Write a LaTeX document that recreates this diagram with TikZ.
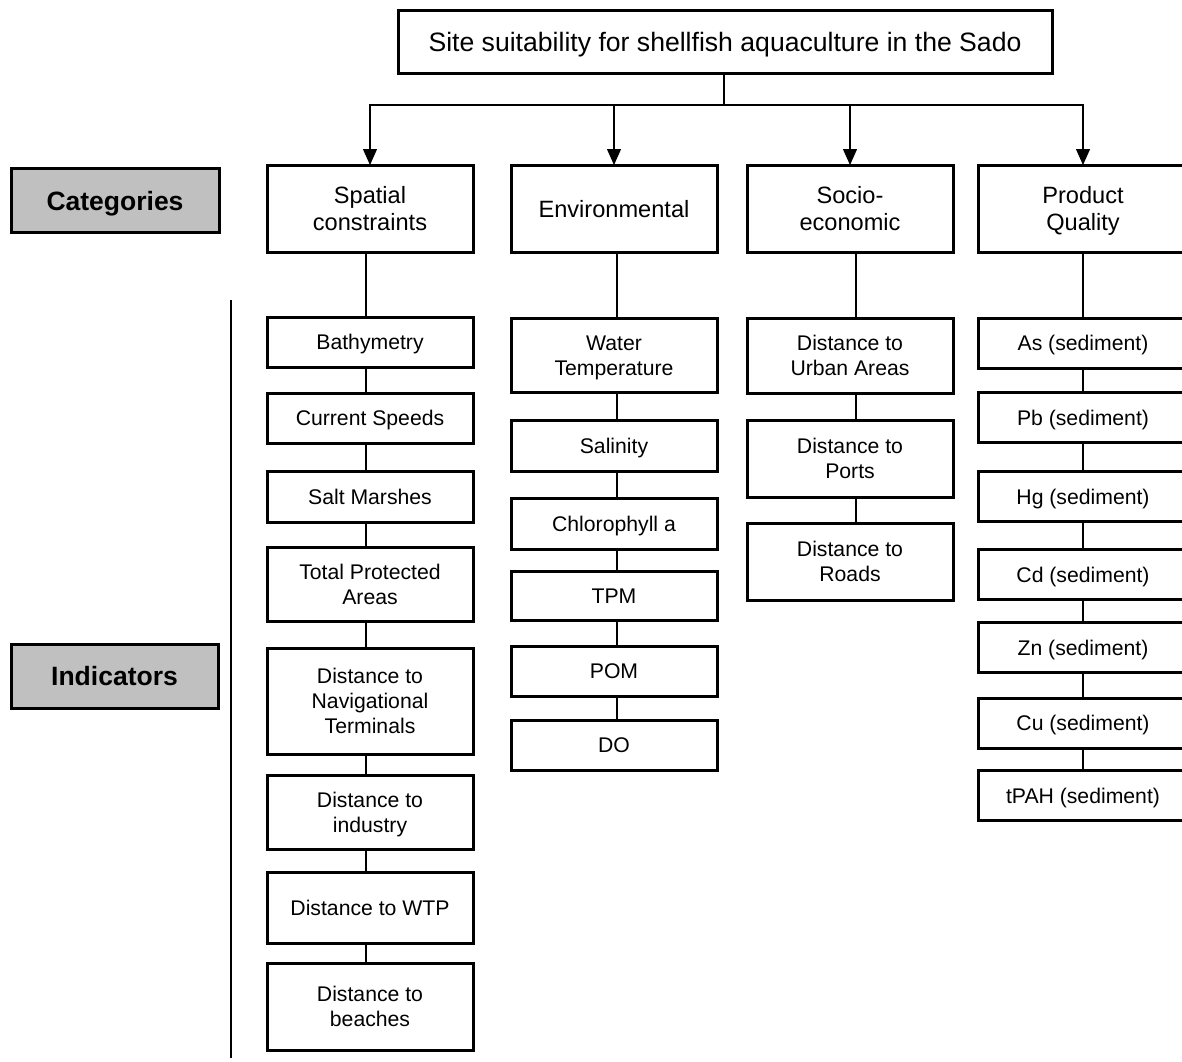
\documentclass[tikz,border=0pt]{standalone}
\usepackage{fontspec}
\setmainfont{Liberation Sans}
\usetikzlibrary{arrows.meta}

\definecolor{labelgray}{RGB}{192,192,192}

% struts on first and last line, so text sits in the middle of the box
\newcommand{\boxtext}[1]{\rule{0pt}{0.95em}#1\rule[-0.23em]{0pt}{0.23em}}

\tikzset{
	box/.style={draw, line width=1.5pt, inner sep=0pt, outer sep=0pt, align=center},
	topbox/.style={box, minimum width=327pt, minimum height=31.5pt, font=\fontsize{13.3}{16}\selectfont},
	catbox/.style={box, minimum width=103pt, minimum height=43.5pt, font=\fontsize{11.8}{13.5}\selectfont},
	indbox/.style={box, minimum width=103pt, font=\fontsize{10.6}{12.4}\selectfont},
	labelbox/.style={box, fill=labelgray, minimum height=32pt, font=\bfseries\fontsize{13.25}{16}\selectfont},
	link/.style={line width=0.6pt},
	arr/.style={link, -{Triangle[width=7pt,length=8pt]}}
}

\begin{document}
\begin{tikzpicture}[x=0.5pt, y=-0.5pt]
					\clip (0,0) rectangle (1182,1061);
					
					% Title
					\node[topbox] (title) at (725,41.5) {\boxtext{Site suitability for shellfish aquaculture in the Sado}};
					
					% Side labels
					\node[labelbox, minimum width=104pt] (catlabel) at (115,200.5) {\boxtext{Categories}};
					\node[labelbox, minimum width=103.5pt] (indlabel) at (114.5,676) {\boxtext{Indicators}};
					\draw[link] (231,300) -- (231,1058);
					
					% Categories
					\node[catbox] (sp) at (370,208.5) {\boxtext{Spatial\\constraints}};
					\node[catbox] (env) at (614,208.5) {\boxtext{Environmental}};
					\node[catbox] (soc) at (850,208.5) {\boxtext{Socio-\\economic}};
					\node[catbox, minimum width=105pt] (pq) at (1083,208.5) {\boxtext{Product\\Quality}};
					
					% Title to categories
					\coordinate (hub) at (724,105);
					\draw[link] (title.south -| hub) -- (hub);
					\foreach \c in {sp,env,soc,pq}
					\draw[arr] (hub) -| (\c.north);
					
					% Spatial constraints
					\foreach \n/\y/\h/\t in {bat/342/50/Bathymetry, cur/418/50/Current Speeds,
						salt/496.5/51/Salt Marshes, tpa/584/74/{Total Protected\\Areas},
						nav/701/106/{Distance to\\Navigational\\Terminals}, indu/812/74/{Distance to\\industry},
						wtp/907.5/71/Distance to WTP, bea/1006.5/87/{Distance to\\beaches}}
					\node[indbox, minimum height=\h*0.5pt] (\n) at (370,\y) {\boxtext{\t}};
					
					% Environmental
					\foreach \n/\y/\h/\t in {wt/355/74/{Water\\Temperature}, sal/445.5/51/Salinity,
						chl/523.5/51/Chlorophyll a, tpm/595.5/49/TPM, pom/671/50/POM, do/745/50/DO}
					\node[indbox, minimum height=\h*0.5pt] (\n) at (614,\y) {\boxtext{\t}};
					
					% Socio-economic
					\foreach \n/\y/\h/\t in {urb/355.5/75/{Distance to\\Urban Areas},
						prt/458.5/77/{Distance to\\Ports}, rd/561.5/77/{Distance to\\Roads}}
					\node[indbox, minimum height=\h*0.5pt] (\n) at (850,\y) {\boxtext{\t}};
					
					% Product quality
					\foreach \n/\y/\t in {as/343/As, pb/417.5/Pb, hg/496.5/Hg, cd/574.5/Cd,
						zn/647.5/Zn, cu/723/Cu, tpah/795.5/tPAH}
					\node[indbox, minimum width=105pt, minimum height=25pt] (\n) at (1083,\y) {\boxtext{\t{} (sediment)}};
					
					% Vertical links (slightly off centre, as drawn)
					\foreach \a/\b/\dx in {sp/bat/-2, bat/cur/-2, cur/salt/-2, salt/tpa/-2, tpa/nav/-2,
						nav/indu/-2, indu/wtp/-2, wtp/bea/-2,
						env/wt/1.5, wt/sal/1.5, sal/chl/1.5, chl/tpm/1.5, tpm/pom/1.5, pom/do/1.5,
						soc/urb/3, urb/prt/3, prt/rd/3,
						pq/as/0, as/pb/0, pb/hg/0, hg/cd/0, cd/zn/0, zn/cu/0, cu/tpah/0}
					\draw[link] ([xshift=\dx pt]\a.south) -- ([xshift=\dx pt]\b.north);
				\end{tikzpicture}
\end{document}
